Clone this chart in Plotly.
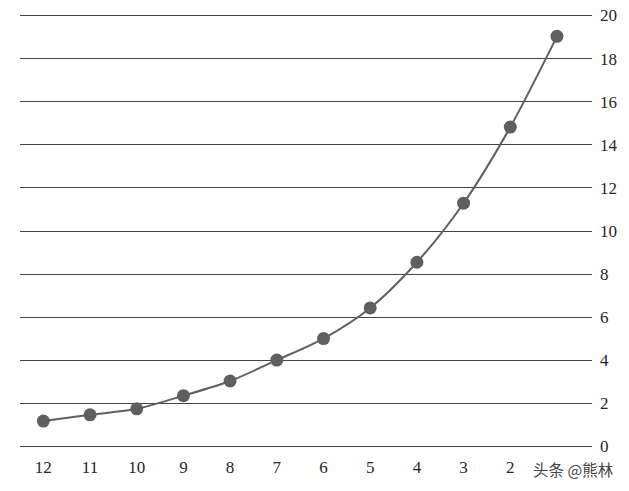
import plotly.graph_objects as go

categories = ["12", "11", "10", "9", "8", "7", "6", "5", "4", "3", "2", "1"]
tick_labels = ["12", "11", "10", "9", "8", "7", "6", "5", "4", "3", "2", ""]
values = [1.18, 1.47, 1.75, 2.36, 3.04, 4.01, 5.01, 6.43, 8.55, 11.29, 14.82, 19.03]
y_ticks = [0, 2, 4, 6, 8, 10, 12, 14, 16, 18, 20]

idx = list(range(len(categories)))

fig = go.Figure()
fig.add_trace(go.Scatter(
    x=idx, y=values, mode="lines+markers",
    line=dict(color="#5f5f5f", width=2, shape="spline", smoothing=0.8),
    marker=dict(color="#5f5f5f", size=13),
    showlegend=False,
))

fig.update_layout(
    width=629, height=491,
    margin=dict(l=20, r=37, t=8.5, b=38),
    paper_bgcolor="white", plot_bgcolor="white",
    font=dict(family="Liberation Serif, Times New Roman, serif", size=17, color="#262626"),
    xaxis=dict(
        range=[-0.5, 11.75], tickvals=idx, ticktext=tick_labels,
        showgrid=False, zeroline=False, showline=False, ticks="",
        ticklabelstandoff=2, automargin=False,
    ),
    yaxis=dict(
        side="right", range=[-0.3, 20.3], tickvals=y_ticks,
        showgrid=True, gridcolor="#444444", gridwidth=1.3,
        zeroline=False, showline=False, ticks="",
        ticklabelstandoff=7, automargin=False,
    ),
)

fig.add_annotation(
    x=1, y=0, xref="paper", yref="paper", xanchor="right", yanchor="middle",
    xshift=24, yshift=-16,
    text="头条 @熊林", showarrow=False,
    font=dict(family="Noto Sans CJK SC", size=15.5, color="#444444"),
)

fig.write_html(
    "out.html",
    config={"displayModeBar": False},
    post_script="document.body.style.margin='0';document.body.style.overflow='hidden';",
)
